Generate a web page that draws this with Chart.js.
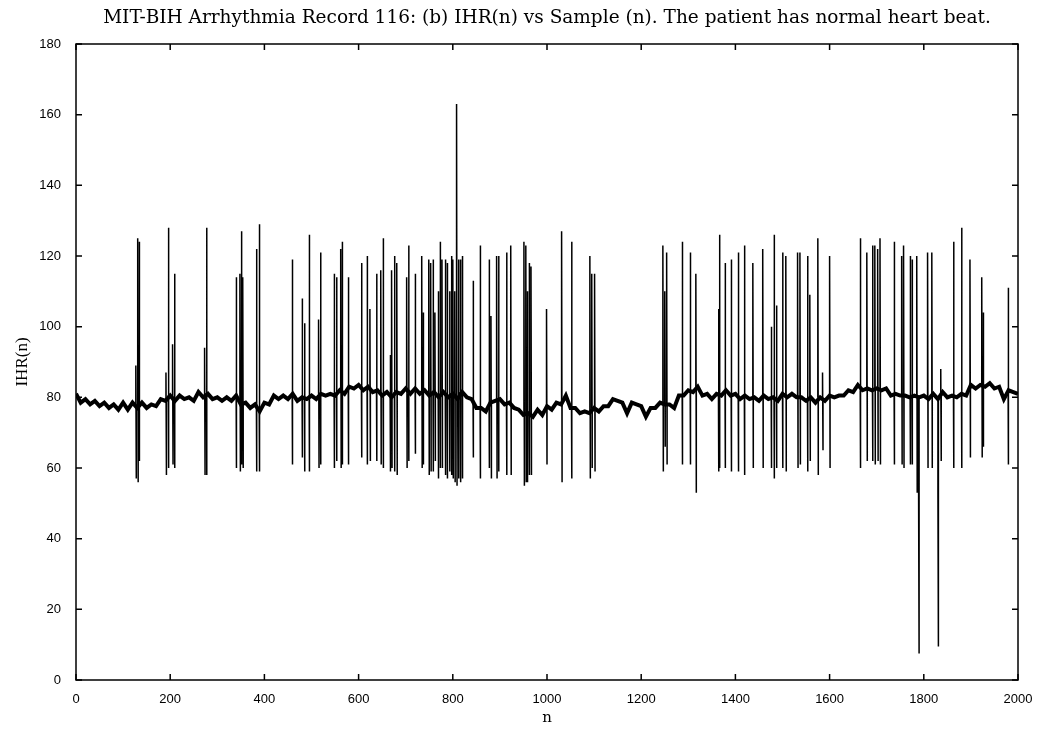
<!DOCTYPE html>
<html>
<head>
<meta charset="utf-8">
<script src="https://cdn.jsdelivr.net/npm/chart.js@4.4.1/dist/chart.umd.min.js"></script>
<style>
  body { margin: 0; background: #fff; }
  #wrap { width: 1038px; height: 735px; }
</style>
</head>
<body>
<div id="wrap"><canvas id="ihr"></canvas></div>
<script>
// baseline IHR, one value every 10 samples (n = 0 .. 2000)
const sampleStep = 10;
const baseIHR = [
  81, 78.5, 79.5, 78, 79, 77.5, 78.5, 77, 78, 76.5,
  78.5, 76.5, 78.5, 77, 78.5, 77, 78, 77.5, 79.5, 79,
  80.5, 79, 80.5, 79.5, 80, 79, 81.5, 80, 81, 79.5,
  80, 79, 80, 79, 80.5, 78, 78.5, 77, 78, 76,
  78.5, 78, 80.5, 79.5, 80.5, 79.5, 81, 79, 80, 79.5,
  80.5, 79.5, 81, 80.5, 81, 80.5, 82, 81, 83, 82.5,
  83.5, 82, 83, 81.5, 82, 80.5, 81.5, 80, 81.5, 81,
  82.5, 81, 82.5, 81, 82, 80.5, 81.5, 80, 81.5, 80,
  81, 79.5, 81.5, 80, 79.5, 77, 77, 76, 78.5, 79,
  79.5, 78, 78.5, 77, 76.5, 75, 75.5, 74.5, 76.5, 75,
  77.5, 76.5, 78.5, 78, 80.5, 77, 77, 75.5, 76, 75.5,
  77, 76, 77.5, 77.5, 79.5, 79, 78.5, 75.5, 78.5, 78,
  77.5, 74.5, 77, 77, 78.5, 78, 78, 77, 80.5, 80.5,
  82, 81.5, 83, 80.5, 81, 79.5, 81, 80.5, 82, 80.5,
  81, 79.5, 80.5, 79.5, 80, 79, 80.5, 79.5, 80, 79,
  81, 80, 81, 80, 80, 79, 80, 78.5, 80, 79,
  80.5, 80, 80.5, 80.5, 82, 81.5, 83.5, 82, 82.5, 82,
  82.5, 82, 82.5, 80.5, 81, 80.5, 80.5, 80, 80.5, 80,
  80.5, 79.5, 81, 79.5, 81.5, 80, 80.5, 80, 81, 80.5,
  83.5, 82.5, 83.5, 83, 84, 82.5, 83, 79.5, 82, 81.5,
  81
];

// beats with a short/long RR pair: sample n, IHR at n, IHR at n+1
const spikeN = [
  127, 131, 134, 191, 196, 205, 209, 273, 277, 340, 348, 351, 354, 383, 389,
  459, 480, 485, 495, 515, 519, 548, 553, 562, 565, 578, 606, 618, 624, 638,
  647, 652, 667, 670, 676, 681, 702, 706, 720, 734, 737, 749, 753, 758, 762,
  769, 773, 777, 784, 788, 793, 797, 800, 804, 808, 812, 816, 820, 843, 858,
  877, 881, 893, 897, 914, 923, 951, 955, 958, 962, 966, 999, 1031, 1052, 1091,
  1095, 1101, 1246, 1250, 1254, 1287, 1304, 1316, 1364, 1366, 1378, 1391, 1406, 1419, 1437,
  1458, 1476, 1482, 1487, 1500, 1507, 1532, 1537, 1553, 1558, 1575, 1585, 1600, 1665, 1679,
  1691, 1696, 1702, 1707, 1737, 1753, 1757, 1771, 1775, 1785, 1789, 1808, 1817, 1830, 1836,
  1863, 1880, 1898, 1923, 1926, 1979
];
const spikeHigh = [
  89, 125, 124, 87, 128, 95, 115, 94, 128, 114, 115, 127, 114, 122, 129,
  119, 108, 101, 126, 102, 121, 115, 114, 122, 124, 114, 118, 120, 105, 115,
  116, 125, 92, 116, 120, 118, 114, 123, 115, 120, 104, 119, 118, 119, 104,
  110, 124, 119, 119, 118, 110, 120, 119, 110, 163, 119, 119, 120, 113, 123,
  119, 103, 120, 120, 121, 123, 124, 123, 110, 118, 117, 105, 127, 124, 120,
  115, 115, 123, 110, 121, 124, 121, 115, 105, 126, 118, 119, 121, 123, 118,
  122, 100, 126, 106, 121, 120, 121, 121, 120, 109, 125, 87, 120, 125, 121,
  123, 123, 122, 125, 124, 120, 123, 120, 119, 120, 51, 121, 121, 53, 88,
  124, 128, 119, 114, 104, 111
];
const spikeLow = [
  57, 56, 62, 58, 60, 61, 60, 58, 58, 60, 59, 61, 60, 59, 59,
  61, 63, 59, 59, 60, 61, 60, 62, 60, 61, 61, 63, 61, 62, 62,
  61, 60, 59, 60, 59, 58, 60, 62, 64, 60, 61, 58, 59, 59, 62,
  57, 60, 60, 58, 57, 59, 58, 57, 56, 55, 57, 56, 57, 63, 57,
  60, 57, 57, 59, 58, 58, 55, 56, 56, 58, 58, 61, 56, 57, 57,
  60, 59, 59, 66, 61, 61, 61, 53, 59, 60, 60, 59, 59, 58, 60,
  60, 60, 57, 60, 60, 59, 60, 61, 59, 62, 58, 65, 60, 60, 62,
  62, 61, 62, 61, 61, 61, 60, 61, 61, 53, 7.5, 60, 60, 9.5, 62,
  60, 60, 63, 63, 66, 61
];

const xTicks = { min: 0, max: 2000, step: 200 };
const yTicks = { min: 0, max: 180, step: 20 };

const basePoints = baseIHR.map((v, i) => ({ x: i * sampleStep, y: v }));

const spikePoints = [];
spikeN.forEach((n, i) => {
  const b = baseIHR[Math.round(n / sampleStep)];
  spikePoints.push({ x: n, y: b });
  spikePoints.push({ x: n, y: spikeHigh[i] });
  spikePoints.push({ x: n + 1, y: spikeLow[i] });
  spikePoints.push({ x: n + 1, y: b });
  spikePoints.push({ x: n + 1, y: null });
});

// matlab style box with inward ticks
const frame = {
  id: 'frame',
  afterDraw(chart) {
    const { ctx, chartArea: a, scales: { x, y } } = chart;
    ctx.save();
    ctx.strokeStyle = '#000';
    ctx.lineWidth = 1.5;
    ctx.strokeRect(a.left, a.top, a.right - a.left, a.bottom - a.top);
    ctx.beginPath();
    x.ticks.forEach(t => {
      const px = x.getPixelForValue(t.value);
      ctx.moveTo(px, a.bottom); ctx.lineTo(px, a.bottom - 6);
      ctx.moveTo(px, a.top); ctx.lineTo(px, a.top + 6);
    });
    y.ticks.forEach(t => {
      const py = y.getPixelForValue(t.value);
      ctx.moveTo(a.left, py); ctx.lineTo(a.left + 6, py);
      ctx.moveTo(a.right, py); ctx.lineTo(a.right - 6, py);
    });
    ctx.stroke();
    ctx.restore();
  }
};

const serif = "'Liberation Serif', 'DejaVu Serif', serif";
const wideSerif = "'DejaVu Serif', 'Liberation Serif', serif";
const sans = "'Liberation Sans', Arial, sans-serif";

new Chart(document.getElementById('ihr'), {
  type: 'line',
  data: {
    datasets: [
      {
        label: 'baseline',
        data: basePoints,
        borderColor: '#000',
        borderWidth: 4,
        pointRadius: 0,
        tension: 0
      },
      {
        label: 'beats',
        data: spikePoints,
        borderColor: '#000',
        borderWidth: 1.5,
        pointRadius: 0,
        spanGaps: false,
        tension: 0
      }
    ]
  },
  options: {
    responsive: true,
    maintainAspectRatio: false,
    animation: false,
    layout: { padding: { left: 0, right: 20, top: 0, bottom: 0 } },
    plugins: {
      legend: { display: false },
      tooltip: { enabled: false },
      title: {
        display: true,
        fullSize: false,
        text: 'MIT-BIH Arrhythmia Record 116: (b) IHR(n) vs Sample (n). The patient has normal heart beat.',
        color: '#000',
        font: { family: wideSerif, size: 18.5, weight: 'normal' },
        padding: { top: 6.9, bottom: 14.9 }
      }
    },
    scales: {
      x: {
        type: 'linear',
        min: xTicks.min,
        max: xTicks.max,
        afterFit: s => { s.height = 55; },
        grid: { display: false },
        border: { display: false },
        ticks: {
          stepSize: xTicks.step,
          color: '#000',
          padding: 4,
          maxRotation: 0,
          callback: v => String(v),
          font: { family: sans, size: 13 }
        },
        title: {
          display: true,
          text: 'n',
          color: '#000',
          font: { family: wideSerif, size: 15 },
          padding: { top: 0, bottom: 8 }
        }
      },
      y: {
        min: yTicks.min,
        max: yTicks.max,
        afterFit: s => { s.width = 76; },
        grid: { display: false },
        border: { display: false },
        ticks: {
          stepSize: yTicks.step,
          color: '#000',
          padding: 7,
          callback: v => String(v),
          font: { family: sans, size: 13 }
        },
        title: {
          display: true,
          text: 'IHR(n)',
          color: '#000',
          font: { family: serif, size: 17 },
          padding: { top: 12, bottom: 0 }
        }
      }
    }
  },
  plugins: [frame]
});
</script>
</body>
</html>
